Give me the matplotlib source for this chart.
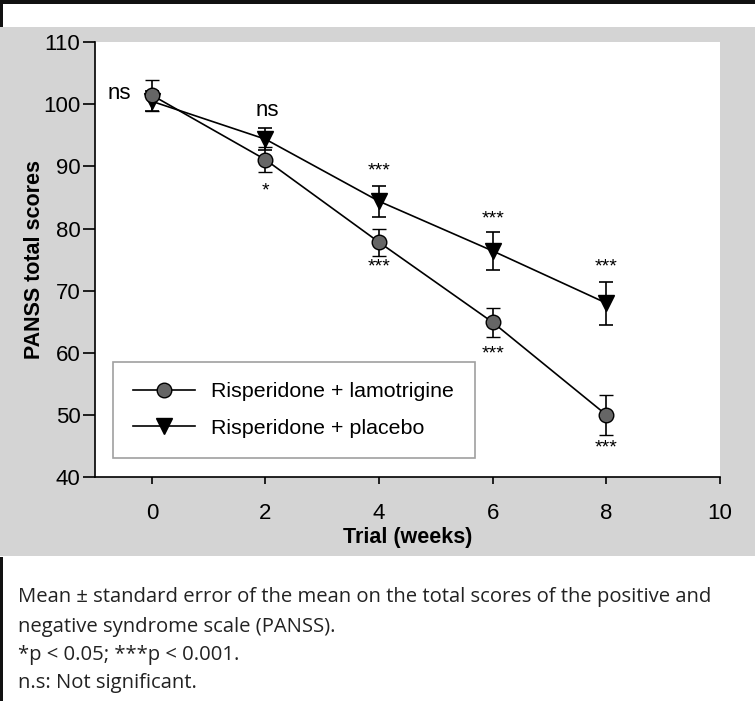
import matplotlib
matplotlib.use("Agg")
import matplotlib.pyplot as plt
from matplotlib.patches import Rectangle
from matplotlib.lines import Line2D

weeks = [0, 2, 4, 6, 8]
lamo_mean = [101.5, 91.1, 77.8, 64.9, 50.0]
lamo_err = [2.5, 2.0, 2.2, 2.3, 3.2]
plac_mean = [100.5, 94.4, 84.4, 76.4, 68.0]
plac_err = [1.6, 1.8, 2.5, 3.1, 3.45]

sig_labels = [
    ("ns", -0.58, 101.7, 16),
    ("ns", 2.04, 99.0, 16),
    ("*", 2.0, 86.1, 14),
    ("***", 4.0, 89.2, 14),
    ("***", 4.0, 73.8, 14),
    ("***", 6.0, 81.6, 14),
    ("***", 6.0, 59.8, 14),
    ("***", 8.0, 73.8, 14),
    ("***", 8.0, 44.6, 14),
]

caption = [
    "Mean \u00b1 standard error of the mean on the total scores of the positive and",
    "negative syndrome scale (PANSS).",
    "*p < 0.05; ***p < 0.001.",
    "n.s: Not significant.",
]

W, H = 755, 701
fig = plt.figure(figsize=(W / 100, H / 100), dpi=100)
fig.patch.set_facecolor("white")

def fx(px):
    return px / W

def fy(py):
    return 1 - py / H

def add_rect(x0, y0, x1, y1, color):
    fig.add_artist(Rectangle((fx(x0), fy(y1)), fx(x1) - fx(x0), fy(y0) - fy(y1),
                             transform=fig.transFigure, facecolor=color,
                             edgecolor="none", zorder=-10))

add_rect(0, 27, 755, 556, "#d4d4d4")   # grey panel
add_rect(0, 0, 755, 4, "#111111")      # top black bar
add_rect(0, 4, 2.5, 27, "#111111")     # left black line (top)
add_rect(0, 557, 2.5, 701, "#111111")  # left black line (bottom)

ax = fig.add_axes([fx(95), fy(477), fx(720) - fx(95), fy(42.3) - fy(477)])
ax.set_zorder(1)
ax.set_facecolor("white")
ax.set_xlim(-1, 10)
ax.set_ylim(40, 110)
for s in ["top", "right"]:
    ax.spines[s].set_visible(False)
for s in ["left", "bottom"]:
    ax.spines[s].set_linewidth(1.2)
ax.set_yticks(range(40, 111, 10))
ax.set_xticks(range(0, 11, 2))
ax.tick_params(axis="y", direction="out", length=8.5, width=1.2, labelsize=16, pad=2)
ax.tick_params(axis="x", direction="out", length=5, width=1.2, labelsize=16, pad=14)
for lab in ax.get_xticklabels() + ax.get_yticklabels():
    lab.set_family("Liberation Sans")

ax.errorbar(weeks, plac_mean, yerr=plac_err, color="black", lw=1.2, elinewidth=1.2,
            capsize=5, capthick=1.2, marker="v", markersize=11, markerfacecolor="black",
            markeredgecolor="black", zorder=3)
ax.errorbar(weeks, lamo_mean, yerr=lamo_err, color="black", lw=1.2, elinewidth=1.2,
            capsize=5, capthick=1.2, marker="o", markersize=10.5, markerfacecolor="#666666",
            markeredgecolor="black", markeredgewidth=1.0, zorder=4)

for txt, x, y, fs in sig_labels:
    ax.text(x, y, txt, ha="center", va="center", fontsize=fs, family="Liberation Sans")

ax.set_xlabel("Trial (weeks)", fontsize=15.5, fontweight="bold", family="Liberation Sans", labelpad=2)
ax.set_ylabel("PANSS total scores", fontsize=15.5, fontweight="bold", family="Liberation Sans", labelpad=-1.5)

handles = [
    Line2D([], [], color="black", lw=1.2, marker="o", markersize=10.5,
           markerfacecolor="#666666", markeredgecolor="black"),
    Line2D([], [], color="black", lw=1.2, marker="v", markersize=11,
           markerfacecolor="black", markeredgecolor="black"),
]
leg = ax.legend(handles, ["Risperidone + lamotrigine", "Risperidone + placebo"],
                loc="upper left", bbox_to_anchor=((113 - 95) / 625, (477 - 362) / 434.7),
                bbox_transform=ax.transAxes, frameon=True, fancybox=False,
                prop={"family": "Liberation Sans", "size": 15.4}, handlelength=2.9,
                borderpad=0.95, labelspacing=0.82, handletextpad=0.75, borderaxespad=0)
leg.get_frame().set_edgecolor("#888888")
leg.get_frame().set_linewidth(1.2)

ys = [597, 627, 655, 683]
for line, y in zip(caption, ys):
    fig.text(fx(18), fy(y), line, ha="left", va="center", fontsize=14.6, family="Open Sans",
             color="#222222")

fig.savefig("out.png", dpi=100)
